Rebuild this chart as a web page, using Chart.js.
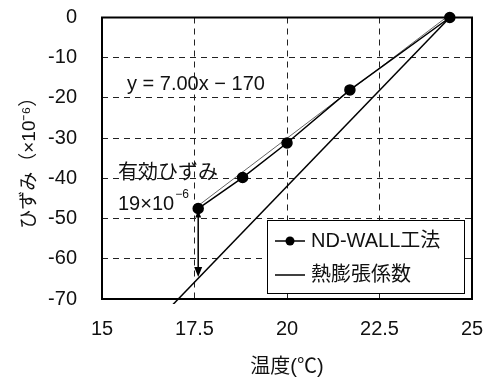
<!DOCTYPE html>
<html><head><meta charset="utf-8">
<script src="https://cdn.jsdelivr.net/npm/chart.js@4"></script>
<style>html,body{margin:0;padding:0;background:#fff}</style>
</head><body>
<canvas id="c" width="488" height="380"></canvas>
<script>
// ---- data ----
const xTicks = [15, 17.5, 20, 22.5, 25];
const yTicks = [0, -10, -20, -30, -40, -50, -60, -70];
const ndTemp = [17.6, 18.8, 20.0, 21.7, 24.4];
const ndStrain = [-47.5, -39.8, -31.2, -18.0, 0];
const thermTemp = [24.4, 16.8];
const thermStrain = [0, -72.5];
const trendTemp = [17.6, 24.3];
const trendStrain = [-46.8, 0];
const arrowTemp = 17.6, arrowFrom = -47.5, arrowTo = -64.5;
const ndLabel = 'ND-WALL工法';
const thermLabel = '熱膨張係数';
const xTitle = '温度(℃)';
const yTitle = 'ひずみ（×10⁻⁶）';
const eqText = 'y = 7.00x − 170';
const effText = '有効ひずみ';
const effVal = '19×10';
const effExp = '−6';

const FONT = "'Liberation Sans', 'Noto Sans CJK JP', sans-serif";
const toPts = (xs, ys) => xs.map((x, i) => ({x, y: ys[i]}));

const overlay = {
  id: 'overlay',
  afterDraw(chart) {
    const {ctx, chartArea: a, scales: {x, y}} = chart;
    ctx.save();
    ctx.strokeStyle = '#000';
    ctx.lineWidth = 2;
    ctx.strokeRect(a.left, a.top, a.right - a.left, a.bottom - a.top);
    const ax = x.getPixelForValue(arrowTemp);
    const y0 = y.getPixelForValue(arrowFrom), y1 = y.getPixelForValue(arrowTo);
    ctx.lineWidth = 1.5;
    ctx.beginPath(); ctx.moveTo(ax, y0); ctx.lineTo(ax, y1 - 8); ctx.stroke();
    ctx.fillStyle = '#000';
    ctx.beginPath(); ctx.moveTo(ax, y1); ctx.lineTo(ax - 4, y1 - 10); ctx.lineTo(ax + 4, y1 - 10); ctx.closePath(); ctx.fill();
    ctx.beginPath(); ctx.moveTo(ax, y0 + 2); ctx.lineTo(ax - 3, y0 + 9); ctx.lineTo(ax + 3, y0 + 9); ctx.closePath(); ctx.fill();
    ctx.fillStyle = '#111';
    ctx.textBaseline = 'middle';
    ctx.textAlign = 'left';
    ctx.font = '20px ' + FONT;
    ctx.fillText(eqText, a.left + 25, 84);
    ctx.fillText(effText, a.left + 16, 173);
    ctx.fillText(effVal, a.left + 16, 204);
    const w = ctx.measureText(effVal).width;
    ctx.font = '12px ' + FONT;
    ctx.fillText(effExp, a.left + 16 + w + 1, 195);
    const bx = 267, by = 220, bw = 197, bh = 73;
    ctx.fillStyle = '#fff';
    ctx.fillRect(bx, by, bw, bh);
    ctx.strokeStyle = '#000'; ctx.lineWidth = 1;
    ctx.strokeRect(bx + 0.5, by + 0.5, bw, bh);
    const items = [
      {t: chart.data.datasets[0].label, y: by + 21, marker: true},
      {t: chart.data.datasets[1].label, y: by + 55, marker: false}
    ];
    ctx.font = '20px ' + FONT;
    items.forEach(it => {
      ctx.strokeStyle = '#000'; ctx.lineWidth = 1.5;
      ctx.beginPath(); ctx.moveTo(bx + 8, it.y); ctx.lineTo(bx + 38, it.y); ctx.stroke();
      if (it.marker) { ctx.fillStyle = '#000'; ctx.beginPath(); ctx.arc(bx + 23, it.y, 4.5, 0, Math.PI * 2); ctx.fill(); }
      ctx.fillStyle = '#111';
      ctx.fillText(it.t, bx + 44, it.y);
    });
    ctx.restore();
  }
};

new Chart(document.getElementById('c'), {
  type: 'scatter',
  data: {
    datasets: [
      {label: ndLabel, data: toPts(ndTemp, ndStrain), showLine: true, borderColor: '#000', backgroundColor: '#000',
       borderWidth: 1.5, pointRadius: 5, pointHoverRadius: 5, clip: 8},
      {label: thermLabel, data: toPts(thermTemp, thermStrain), showLine: true, borderColor: '#000',
       borderWidth: 1.5, pointRadius: 0, clip: {left: 0, top: 0, right: 0, bottom: 5}},
      {label: 'trend', data: toPts(trendTemp, trendStrain), showLine: true, borderColor: '#666',
       borderWidth: 1, pointRadius: 0}
    ]
  },
  options: {
    responsive: false,
    animation: false,
    events: [],
    layout: {padding: {top: 17.5, right: 16, bottom: 0, left: 0}},
    plugins: {legend: {display: false}, tooltip: {enabled: false}},
    scales: {
      x: {
        type: 'linear', min: 15, max: 25,
        afterBuildTicks: s => { s.ticks = xTicks.map(v => ({value: v})); },
        afterFit: s => { s.height = 81; s.paddingLeft = 0; s.paddingRight = 0; },
        grid: {color: '#222', lineWidth: 1, drawTicks: false},
        border: {display: false, dash: [6, 5]},
        ticks: {padding: 18, color: '#111', font: {family: FONT, size: 20}, maxRotation: 0, autoSkip: false},
        title: {display: true, text: xTitle, color: '#111', font: {family: FONT, size: 20}, padding: {top: 0, bottom: 1}}
      },
      y: {
        type: 'linear', min: -70, max: 0,
        afterBuildTicks: s => { s.ticks = yTicks.map(v => ({value: v})); },
        afterFit: s => { s.width = 102; s.paddingTop = 0; s.paddingBottom = 0; },
        grid: {color: '#222', lineWidth: 1, drawTicks: false},
        border: {display: false, dash: [6, 5]},
        ticks: {padding: 25, color: '#111', font: {family: FONT, size: 20}, autoSkip: false},
        title: {display: true, text: yTitle, color: '#111', font: {family: FONT, size: 19}, padding: {top: 18, bottom: 0}}
      }
    }
  },
  plugins: [overlay]
});
</script>
</body></html>
